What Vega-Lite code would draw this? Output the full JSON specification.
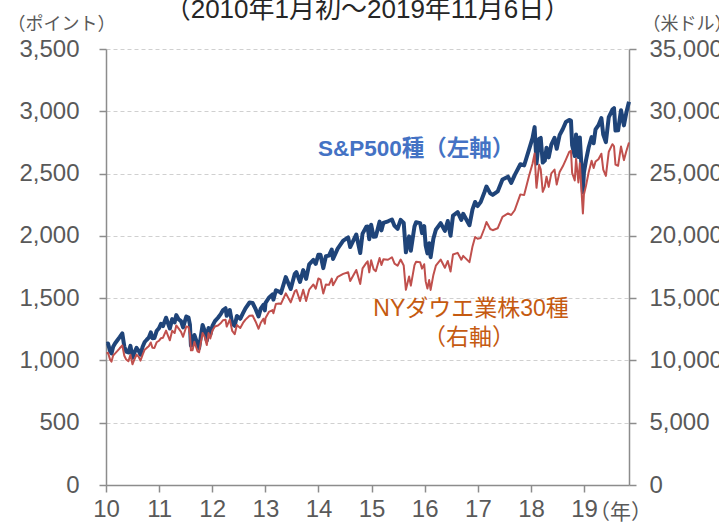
{
  "$schema": "https://vega.github.io/schema/vega-lite/v6.json",
  "width": 523,
  "height": 436,
  "autosize": "none",
  "padding": {"left": 106, "top": 49, "right": 90, "bottom": 38},
  "background": "white",
  "config": {
    "font": "Liberation Sans, Noto Sans CJK JP",
    "view": {"stroke": null},
    "axis": {"labelFont": "Liberation Sans, Noto Sans CJK JP", "titleFont": "Liberation Sans, Noto Sans CJK JP", "labelColor": "#595959", "titleColor": "#595959", "labelFontSize": 24, "titleFontSize": 18, "titleFontWeight": "normal", "domainColor": "#8c8c8c", "tickColor": "#8c8c8c", "domainWidth": 1.5, "tickWidth": 1.5}
  },
  "title": {"text": "（2010年1月初～2019年11月6日）", "fontSize": 26, "fontWeight": "normal", "color": "#262626", "offset": -8, "anchor": "middle", "font": "Liberation Sans, Noto Sans CJK JP"},
  "datasets": {
    "idx": [
      {"d": "2010-01-04", "sp": 1133, "dj": 10584},
      {"d": "2010-01-15", "sp": 1136, "dj": 10610},
      {"d": "2010-01-29", "sp": 1074, "dj": 10067},
      {"d": "2010-02-08", "sp": 1056, "dj": 9908},
      {"d": "2010-02-19", "sp": 1109, "dj": 10402},
      {"d": "2010-03-05", "sp": 1138, "dj": 10566},
      {"d": "2010-03-19", "sp": 1160, "dj": 10742},
      {"d": "2010-04-05", "sp": 1187, "dj": 10974},
      {"d": "2010-04-23", "sp": 1217, "dj": 11205},
      {"d": "2010-05-07", "sp": 1111, "dj": 10380},
      {"d": "2010-05-20", "sp": 1071, "dj": 10068},
      {"d": "2010-06-04", "sp": 1064, "dj": 9931},
      {"d": "2010-06-18", "sp": 1117, "dj": 10450},
      {"d": "2010-07-02", "sp": 1022, "dj": 9686},
      {"d": "2010-07-16", "sp": 1065, "dj": 10097},
      {"d": "2010-07-30", "sp": 1101, "dj": 10466},
      {"d": "2010-08-13", "sp": 1079, "dj": 10303},
      {"d": "2010-08-26", "sp": 1047, "dj": 9985},
      {"d": "2010-09-10", "sp": 1110, "dj": 10462},
      {"d": "2010-09-24", "sp": 1148, "dj": 10860},
      {"d": "2010-10-08", "sp": 1166, "dj": 11006},
      {"d": "2010-10-22", "sp": 1183, "dj": 11133},
      {"d": "2010-11-05", "sp": 1225, "dj": 11444},
      {"d": "2010-11-16", "sp": 1178, "dj": 11023},
      {"d": "2010-11-30", "sp": 1180, "dj": 11006},
      {"d": "2010-12-15", "sp": 1236, "dj": 11457},
      {"d": "2010-12-31", "sp": 1258, "dj": 11578},
      {"d": "2011-01-14", "sp": 1293, "dj": 11787},
      {"d": "2011-01-28", "sp": 1276, "dj": 11824},
      {"d": "2011-02-18", "sp": 1343, "dj": 12391},
      {"d": "2011-03-01", "sp": 1306, "dj": 12058},
      {"d": "2011-03-16", "sp": 1256, "dj": 11613},
      {"d": "2011-04-01", "sp": 1332, "dj": 12376},
      {"d": "2011-04-18", "sp": 1305, "dj": 12202},
      {"d": "2011-04-29", "sp": 1364, "dj": 12811},
      {"d": "2011-05-16", "sp": 1329, "dj": 12549},
      {"d": "2011-06-01", "sp": 1315, "dj": 12290},
      {"d": "2011-06-15", "sp": 1265, "dj": 11897},
      {"d": "2011-07-07", "sp": 1353, "dj": 12719},
      {"d": "2011-07-22", "sp": 1345, "dj": 12681},
      {"d": "2011-08-01", "sp": 1287, "dj": 12132},
      {"d": "2011-08-08", "sp": 1119, "dj": 10810},
      {"d": "2011-08-19", "sp": 1124, "dj": 10817},
      {"d": "2011-09-01", "sp": 1204, "dj": 11494},
      {"d": "2011-09-22", "sp": 1130, "dj": 10733},
      {"d": "2011-10-03", "sp": 1099, "dj": 10655},
      {"d": "2011-10-27", "sp": 1285, "dj": 12209},
      {"d": "2011-11-10", "sp": 1239, "dj": 11894},
      {"d": "2011-11-25", "sp": 1159, "dj": 11231},
      {"d": "2011-12-07", "sp": 1261, "dj": 12196},
      {"d": "2011-12-19", "sp": 1206, "dj": 11766},
      {"d": "2012-01-03", "sp": 1277, "dj": 12397},
      {"d": "2012-01-20", "sp": 1315, "dj": 12720},
      {"d": "2012-02-10", "sp": 1343, "dj": 12801},
      {"d": "2012-03-01", "sp": 1374, "dj": 13005},
      {"d": "2012-03-16", "sp": 1404, "dj": 13232},
      {"d": "2012-04-02", "sp": 1419, "dj": 13264},
      {"d": "2012-04-10", "sp": 1358, "dj": 12716},
      {"d": "2012-05-01", "sp": 1405, "dj": 13279},
      {"d": "2012-05-18", "sp": 1295, "dj": 12369},
      {"d": "2012-06-04", "sp": 1278, "dj": 12101},
      {"d": "2012-06-19", "sp": 1357, "dj": 12837},
      {"d": "2012-07-12", "sp": 1334, "dj": 12604},
      {"d": "2012-07-31", "sp": 1379, "dj": 13009},
      {"d": "2012-08-17", "sp": 1418, "dj": 13275},
      {"d": "2012-09-14", "sp": 1465, "dj": 13593},
      {"d": "2012-10-05", "sp": 1461, "dj": 13610},
      {"d": "2012-10-26", "sp": 1411, "dj": 13107},
      {"d": "2012-11-15", "sp": 1353, "dj": 12543},
      {"d": "2012-11-30", "sp": 1416, "dj": 13026},
      {"d": "2012-12-18", "sp": 1446, "dj": 13351},
      {"d": "2012-12-28", "sp": 1402, "dj": 12938},
      {"d": "2013-01-02", "sp": 1462, "dj": 13412},
      {"d": "2013-01-25", "sp": 1503, "dj": 13895},
      {"d": "2013-02-19", "sp": 1530, "dj": 14035},
      {"d": "2013-02-25", "sp": 1488, "dj": 13784},
      {"d": "2013-03-14", "sp": 1563, "dj": 14539},
      {"d": "2013-04-05", "sp": 1553, "dj": 14565},
      {"d": "2013-04-18", "sp": 1541, "dj": 14537},
      {"d": "2013-05-21", "sp": 1669, "dj": 15387},
      {"d": "2013-06-24", "sp": 1573, "dj": 14660},
      {"d": "2013-07-22", "sp": 1695, "dj": 15545},
      {"d": "2013-08-02", "sp": 1709, "dj": 15658},
      {"d": "2013-08-27", "sp": 1630, "dj": 14776},
      {"d": "2013-09-18", "sp": 1725, "dj": 15676},
      {"d": "2013-10-08", "sp": 1655, "dj": 14776},
      {"d": "2013-10-29", "sp": 1771, "dj": 15680},
      {"d": "2013-11-27", "sp": 1807, "dj": 16097},
      {"d": "2013-12-13", "sp": 1775, "dj": 15755},
      {"d": "2013-12-31", "sp": 1848, "dj": 16577},
      {"d": "2014-01-15", "sp": 1848, "dj": 16481},
      {"d": "2014-02-03", "sp": 1741, "dj": 15373},
      {"d": "2014-02-21", "sp": 1836, "dj": 16104},
      {"d": "2014-03-14", "sp": 1841, "dj": 16065},
      {"d": "2014-04-02", "sp": 1890, "dj": 16573},
      {"d": "2014-04-11", "sp": 1815, "dj": 16026},
      {"d": "2014-05-13", "sp": 1897, "dj": 16715},
      {"d": "2014-06-20", "sp": 1962, "dj": 16947},
      {"d": "2014-07-24", "sp": 1987, "dj": 17083},
      {"d": "2014-08-07", "sp": 1910, "dj": 16368},
      {"d": "2014-09-18", "sp": 2011, "dj": 17265},
      {"d": "2014-10-15", "sp": 1862, "dj": 16141},
      {"d": "2014-10-31", "sp": 2018, "dj": 17391},
      {"d": "2014-11-26", "sp": 2073, "dj": 17828},
      {"d": "2014-12-05", "sp": 2075, "dj": 17958},
      {"d": "2014-12-16", "sp": 1972, "dj": 17068},
      {"d": "2014-12-29", "sp": 2090, "dj": 18038},
      {"d": "2015-01-15", "sp": 1992, "dj": 17320},
      {"d": "2015-01-30", "sp": 1995, "dj": 17165},
      {"d": "2015-02-25", "sp": 2114, "dj": 18224},
      {"d": "2015-03-10", "sp": 2044, "dj": 17662},
      {"d": "2015-03-23", "sp": 2104, "dj": 18116},
      {"d": "2015-04-24", "sp": 2117, "dj": 18080},
      {"d": "2015-05-21", "sp": 2131, "dj": 18285},
      {"d": "2015-06-08", "sp": 2080, "dj": 17766},
      {"d": "2015-06-29", "sp": 2057, "dj": 17597},
      {"d": "2015-07-20", "sp": 2128, "dj": 18100},
      {"d": "2015-08-10", "sp": 2104, "dj": 17615},
      {"d": "2015-08-25", "sp": 1868, "dj": 15666},
      {"d": "2015-09-16", "sp": 1996, "dj": 16739},
      {"d": "2015-09-28", "sp": 1881, "dj": 16001},
      {"d": "2015-10-23", "sp": 2075, "dj": 17646},
      {"d": "2015-11-03", "sp": 2109, "dj": 17918},
      {"d": "2015-12-01", "sp": 2102, "dj": 17888},
      {"d": "2015-12-14", "sp": 2022, "dj": 17368},
      {"d": "2015-12-29", "sp": 2078, "dj": 17720},
      {"d": "2016-01-08", "sp": 1922, "dj": 16346},
      {"d": "2016-01-20", "sp": 1859, "dj": 15766},
      {"d": "2016-02-01", "sp": 1940, "dj": 16449},
      {"d": "2016-02-11", "sp": 1829, "dj": 15660},
      {"d": "2016-03-01", "sp": 1978, "dj": 16865},
      {"d": "2016-03-18", "sp": 2049, "dj": 17602},
      {"d": "2016-04-20", "sp": 2102, "dj": 18096},
      {"d": "2016-05-19", "sp": 2040, "dj": 17435},
      {"d": "2016-06-08", "sp": 2119, "dj": 17985},
      {"d": "2016-06-27", "sp": 2001, "dj": 17140},
      {"d": "2016-07-14", "sp": 2163, "dj": 18506},
      {"d": "2016-08-15", "sp": 2190, "dj": 18636},
      {"d": "2016-09-09", "sp": 2128, "dj": 18085},
      {"d": "2016-09-22", "sp": 2177, "dj": 18392},
      {"d": "2016-11-04", "sp": 2085, "dj": 17888},
      {"d": "2016-11-25", "sp": 2213, "dj": 19152},
      {"d": "2016-12-13", "sp": 2272, "dj": 19911},
      {"d": "2016-12-30", "sp": 2239, "dj": 19763},
      {"d": "2017-01-20", "sp": 2271, "dj": 19827},
      {"d": "2017-02-15", "sp": 2350, "dj": 20611},
      {"d": "2017-03-01", "sp": 2396, "dj": 21115},
      {"d": "2017-03-27", "sp": 2341, "dj": 20550},
      {"d": "2017-04-13", "sp": 2329, "dj": 20453},
      {"d": "2017-05-17", "sp": 2357, "dj": 20606},
      {"d": "2017-06-19", "sp": 2453, "dj": 21529},
      {"d": "2017-07-27", "sp": 2475, "dj": 21797},
      {"d": "2017-08-18", "sp": 2425, "dj": 21674},
      {"d": "2017-09-11", "sp": 2488, "dj": 22057},
      {"d": "2017-10-20", "sp": 2575, "dj": 23329},
      {"d": "2017-11-15", "sp": 2565, "dj": 23271},
      {"d": "2017-12-18", "sp": 2690, "dj": 24792},
      {"d": "2018-01-12", "sp": 2786, "dj": 25803},
      {"d": "2018-01-26", "sp": 2873, "dj": 26617},
      {"d": "2018-02-05", "sp": 2649, "dj": 24346},
      {"d": "2018-02-08", "sp": 2581, "dj": 23860},
      {"d": "2018-02-26", "sp": 2780, "dj": 25709},
      {"d": "2018-03-09", "sp": 2786, "dj": 25336},
      {"d": "2018-03-23", "sp": 2588, "dj": 23533},
      {"d": "2018-04-06", "sp": 2604, "dj": 23933},
      {"d": "2018-04-18", "sp": 2708, "dj": 24748},
      {"d": "2018-05-03", "sp": 2630, "dj": 23930},
      {"d": "2018-05-21", "sp": 2733, "dj": 25013},
      {"d": "2018-06-12", "sp": 2787, "dj": 25321},
      {"d": "2018-06-27", "sp": 2699, "dj": 24117},
      {"d": "2018-07-17", "sp": 2809, "dj": 25120},
      {"d": "2018-08-08", "sp": 2858, "dj": 25583},
      {"d": "2018-08-29", "sp": 2914, "dj": 26125},
      {"d": "2018-09-21", "sp": 2930, "dj": 26743},
      {"d": "2018-10-03", "sp": 2925, "dj": 26828},
      {"d": "2018-10-11", "sp": 2728, "dj": 25052},
      {"d": "2018-10-29", "sp": 2641, "dj": 24443},
      {"d": "2018-11-07", "sp": 2814, "dj": 26180},
      {"d": "2018-11-23", "sp": 2633, "dj": 24286},
      {"d": "2018-12-03", "sp": 2790, "dj": 25826},
      {"d": "2018-12-24", "sp": 2351, "dj": 21792},
      {"d": "2018-12-31", "sp": 2507, "dj": 23327},
      {"d": "2019-01-15", "sp": 2610, "dj": 24065},
      {"d": "2019-02-01", "sp": 2707, "dj": 25064},
      {"d": "2019-02-22", "sp": 2793, "dj": 26031},
      {"d": "2019-03-08", "sp": 2743, "dj": 25450},
      {"d": "2019-03-21", "sp": 2855, "dj": 25962},
      {"d": "2019-04-10", "sp": 2888, "dj": 26157},
      {"d": "2019-04-30", "sp": 2946, "dj": 26593},
      {"d": "2019-05-13", "sp": 2812, "dj": 25325},
      {"d": "2019-05-31", "sp": 2752, "dj": 24815},
      {"d": "2019-06-20", "sp": 2954, "dj": 26753},
      {"d": "2019-07-15", "sp": 3014, "dj": 27359},
      {"d": "2019-07-26", "sp": 3025, "dj": 27192},
      {"d": "2019-08-05", "sp": 2845, "dj": 25718},
      {"d": "2019-08-23", "sp": 2847, "dj": 25628},
      {"d": "2019-09-12", "sp": 3009, "dj": 27182},
      {"d": "2019-10-02", "sp": 2887, "dj": 26079},
      {"d": "2019-10-18", "sp": 2986, "dj": 26770},
      {"d": "2019-11-06", "sp": 3077, "dj": 27492}
    ]
  },
  "encoding": {
    "x": {
      "field": "d", "type": "temporal",
      "scale": {"domain": ["2010-01-01", "2019-11-06"]},
      "axis": {
        "values": ["2010-01-01", "2011-01-01", "2012-01-01", "2013-01-01", "2014-01-01", "2015-01-01", "2016-01-01", "2017-01-01", "2018-01-01", "2019-01-01"],
        "format": "%y", "grid": false, "tickSize": 7, "labelPadding": 5, "labelFlush": false, "labelAlign": "center",
        "title": "（年）", "titleFontSize": 21, "titleAngle": 0, "titleAlign": "center", "titleBaseline": "middle", "titleX": 514, "titleY": 27
      }
    }
  },
  "layer": [
    {
      "layer": [
        {
          "data": {"name": "idx"},
          "mark": {"type": "line", "color": "#1F4479", "strokeWidth": 4, "strokeJoin": "round"},
          "encoding": {
            "y": {
              "field": "sp", "type": "quantitative",
              "scale": {"domain": [0, 3500]},
              "axis": {
                "values": [0, 500, 1000, 1500, 2000, 2500, 3000, 3500], "format": ",d",
                "grid": true, "gridDash": [4, 3], "gridColor": "#d0d0d0", "gridWidth": 1,
                "tickSize": 7, "labelPadding": 20,
                "title": "（ポイント）", "titleAngle": 0, "titleAlign": "left", "titleBaseline": "middle", "titleX": -99, "titleY": -25
              }
            }
          }
        },
        {
          "data": {"values": [{"d": "2015-11-04", "v": 2701, "t": "S&P500種（左軸）"}]},
          "mark": {"type": "text", "color": "#4472C4", "fontSize": 22.5, "fontWeight": "bold", "align": "center", "baseline": "middle"},
          "encoding": {
            "y": {"field": "v", "type": "quantitative"},
            "text": {"field": "t"}
          }
        }
      ]
    },
    {
      "layer": [
        {
          "data": {"name": "idx"},
          "mark": {"type": "line", "color": "#C0504D", "strokeWidth": 2, "strokeJoin": "round"},
          "encoding": {
            "y": {
              "field": "dj", "type": "quantitative",
              "scale": {"domain": [0, 35000]},
              "axis": {
                "orient": "right",
                "values": [0, 5000, 10000, 15000, 20000, 25000, 30000, 35000], "format": ",d",
                "grid": false, "tickSize": 7, "labelPadding": 13,
                "title": "（米ドル）", "titleAngle": 0, "titleAlign": "left", "titleBaseline": "middle", "titleX": 13, "titleY": -25
              }
            }
          }
        },
        {
          "data": {"values": [
            {"d": "2016-11-15", "v": 14144, "t": "NYダウエ業株30種"},
            {"d": "2016-11-01", "v": 11826, "t": "（右軸）"}
          ]},
          "mark": {"type": "text", "color": "#C55A11", "fontSize": 23, "align": "center", "baseline": "middle"},
          "encoding": {
            "y": {"field": "v", "type": "quantitative"},
            "text": {"field": "t"}
          }
        }
      ]
    }
  ],
  "resolve": {"scale": {"y": "independent"}}
}
